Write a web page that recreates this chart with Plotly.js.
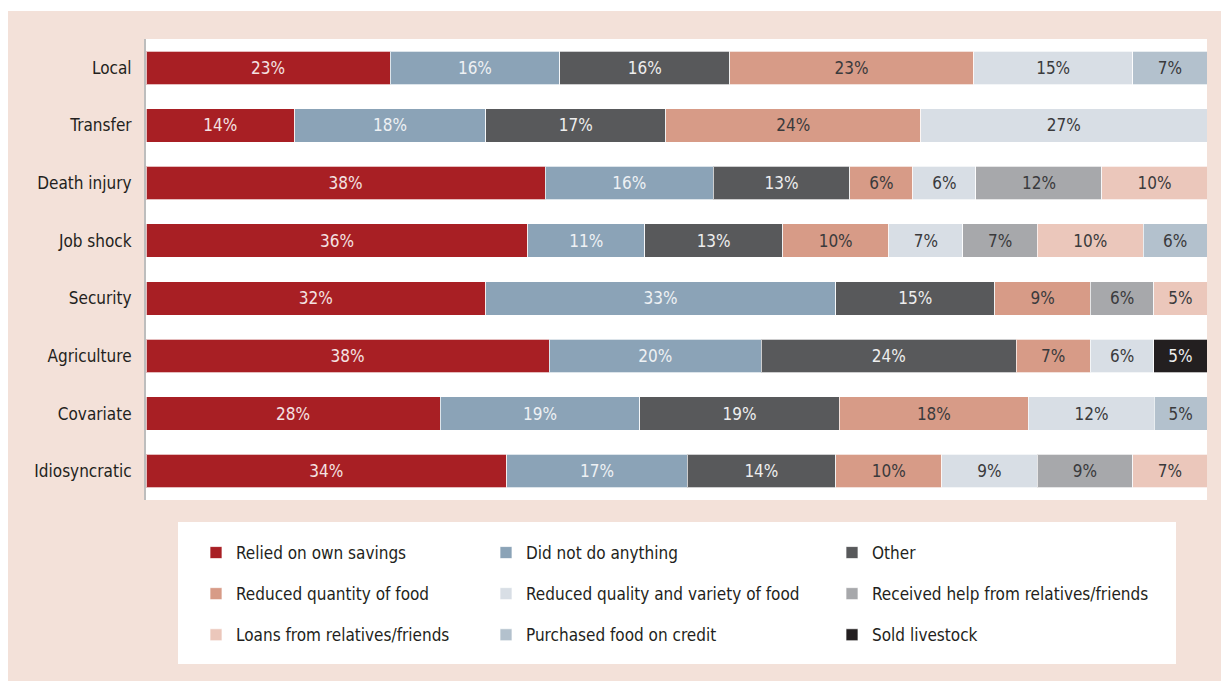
<!DOCTYPE html>
<html>
<head>
<meta charset="utf-8">
<script src="https://cdn.plot.ly/plotly-3.0.1.min.js"></script>
<style>
html,body{margin:0;padding:0;background:#fff;}
#chart{width:1221px;height:681px;}
</style>
</head>
<body>
<div id="chart"></div>
<script>
// Categories (top to bottom)
const categories = ["Local","Transfer","Death injury","Job shock","Security","Agriculture","Covariate","Idiosyncratic"];

// Series values (% of households), null = not shown
const reliedOnOwnSavings      = [23, 14, 38, 36, 32, 38, 28, 34];
const didNotDoAnything        = [16, 18, 16, 11, 33, 20, 19, 17];
const other                   = [16, 17, 13, 13, 15, 24, 19, 14];
const reducedQuantityOfFood   = [23, 24, 6, 10, 9, 7, 18, 10];
const reducedQualityVariety   = [15, 27, 6, 7, null, 6, 12, 9];
const receivedHelpRelatives   = [null, null, 12, 7, 6, null, null, 9];
const loansFromRelatives      = [null, null, 10, 10, 5, null, null, 7];
const purchasedFoodOnCredit   = [7, null, null, 6, null, null, 5, null];
const soldLivestock           = [null, null, null, null, null, 5, null, null];

const seriesNames = [
  "Relied on own savings","Did not do anything","Other",
  "Reduced quantity of food","Reduced quality and variety of food","Received help from relatives/friends",
  "Loans from relatives/friends","Purchased food on credit","Sold livestock"
];
const seriesValues = [
  reliedOnOwnSavings, didNotDoAnything, other,
  reducedQuantityOfFood, reducedQualityVariety, receivedHelpRelatives,
  loansFromRelatives, purchasedFoodOnCredit, soldLivestock
];
const colors = ["#a81f24","#8ba3b7","#58595b","#d79b87","#d8dee5","#a7a8ab","#ebc7bb","#b3c1cd","#231f20"];
const textColors = ["#f4e2e2","#eef1f4","#eeeeee","#3a3a3c","#3a3a3c","#3a3a3c","#3a3a3c","#3a3a3c","#eeeeee"];
// legend column assignment (row-major legend in 3 columns)
const legendIds = ["legend","legend2","legend3","legend","legend2","legend3","legend","legend2","legend3"];

const FONT = "'Liberation Sans Narrow', 'DejaVu Sans Condensed', 'DejaVu Sans', sans-serif";

const traces = seriesNames.map((name, i) => ({
  type: "bar",
  orientation: "h",
  name: name,
  y: categories,
  x: seriesValues[i],
  text: seriesValues[i].map(v => v == null ? "" : v + "%"),
  textposition: "inside",
  insidetextanchor: "middle",
  constraintext: "none",
  textfont: {family: FONT, size: 17, color: textColors[i]},
  marker: {color: colors[i], line: {color: "rgba(255,255,255,0.7)", width: 1}},
  hoverinfo: "name+x",
  legend: legendIds[i],
  legendgroup: "g" + i,
  showlegend: true
}));

// pixel -> paper helpers for decorative panel shapes
const L = 146, R = 14, T = 39, B = 181, W = 1221, H = 681;
const pw = W - L - R, ph = H - T - B;
const px = p => (p - L) / pw;
const py = p => (H - B - p) / ph;

const legendCommon = {
  orientation: "v",
  yanchor: "top",
  xanchor: "left",
  bgcolor: "rgba(0,0,0,0)",
  font: {family: FONT, size: 17, color: "#231f20"},
  tracegroupgap: 16,
  itemclick: false,
  itemdoubleclick: false
};

const layout = {
  width: W, height: H,
  margin: {l: L, r: R, t: T, b: B, pad: 0},
  paper_bgcolor: "#f3e1d9",
  plot_bgcolor: "#ffffff",
  barmode: "stack",
  barnorm: "percent",
  bargap: 0.42,
  showlegend: true,
  xaxis: {range: [0, 100], visible: false, showgrid: false, zeroline: false, fixedrange: true},
  yaxis: {
    autorange: "reversed",
    showgrid: false, zeroline: false,
    showline: true, linecolor: "#bdbdbd", linewidth: 2,
    ticks: "", ticklabelstandoff: 9,
    tickfont: {family: FONT, size: 17, color: "#231f20"},
    fixedrange: true
  },
  legend:  Object.assign({}, legendCommon, {x: px(196), y: py(535)}),
  legend2: Object.assign({}, legendCommon, {x: px(486), y: py(535)}),
  legend3: Object.assign({}, legendCommon, {x: px(832), y: py(535)}),
  shapes: [
    // white outer strips (top and left) outside the pink panel
    {type: "rect", xref: "paper", yref: "paper", x0: px(0), x1: px(W), y0: py(11), y1: py(0),
     fillcolor: "#ffffff", line: {width: 0}, layer: "below"},
    {type: "rect", xref: "paper", yref: "paper", x0: px(0), x1: px(8), y0: py(H), y1: py(0),
     fillcolor: "#ffffff", line: {width: 0}, layer: "below"},
    // white legend box
    {type: "rect", xref: "paper", yref: "paper", x0: px(178), x1: px(1176), y0: py(664), y1: py(522),
     fillcolor: "#ffffff", line: {width: 0}, layer: "below"}
  ]
};

Plotly.newPlot("chart", traces, layout, {displayModeBar: false, responsive: false});
</script>
</body>
</html>
